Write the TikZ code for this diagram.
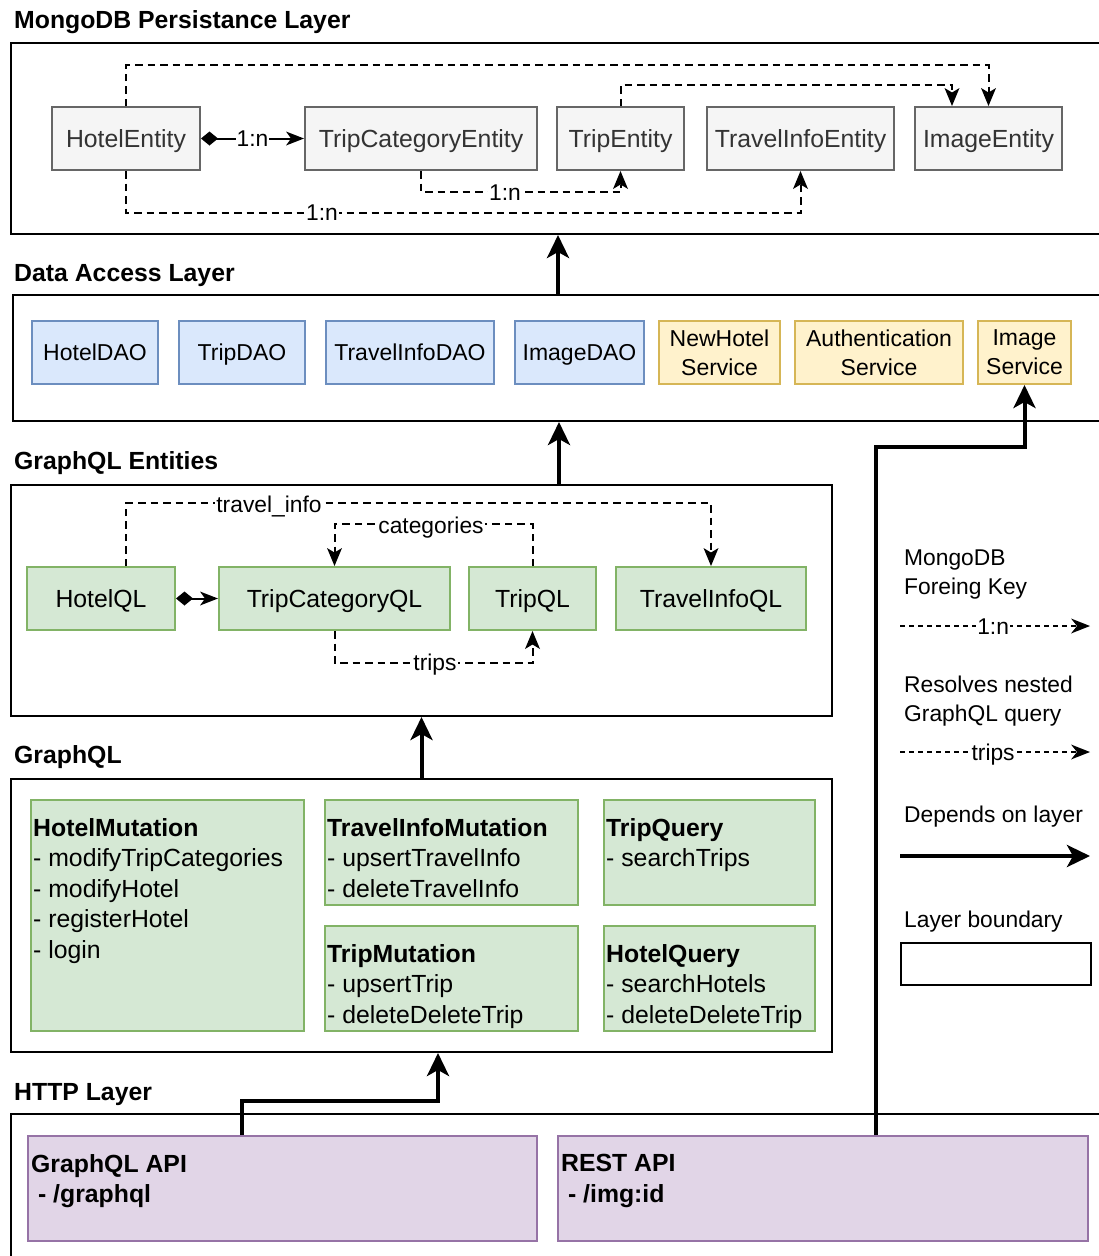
\documentclass[tikz,border=0pt]{standalone}
\usepackage{fontspec}
\setmainfont{Liberation Sans}
\usetikzlibrary{arrows.meta}

\definecolor{entfill}{HTML}{F5F5F5}
\definecolor{entline}{HTML}{666666}
\definecolor{enttext}{HTML}{333333}
\definecolor{daofill}{HTML}{DAE8FC}
\definecolor{daoline}{HTML}{6C8EBF}
\definecolor{svcfill}{HTML}{FFF2CC}
\definecolor{svcline}{HTML}{D6B656}
\definecolor{qlfill}{HTML}{D5E8D4}
\definecolor{qlline}{HTML}{82B366}
\definecolor{apifill}{HTML}{E1D5E7}
\definecolor{apiline}{HTML}{9673A6}

\newcommand{\bigfont}{\fontsize{24.8}{30.5}\selectfont}
\newcommand{\smallfont}{\fontsize{22.8}{29}\selectfont}
\newcommand{\daofont}{\fontsize{23}{29}\selectfont}

\tikzset{
  oneline/.style={text height=#1, text depth=2pt},
  oneline/.default=19.8pt,
  box/.style={draw, line width=2pt, minimum height=63pt, inner sep=0pt},
  ent/.style={box, fill=entfill, draw=entline, text=enttext, font=\bigfont, oneline},
  dao/.style={box, fill=daofill, draw=daoline, font=\daofont, oneline=18.5pt},
  svc/.style={box, fill=svcfill, draw=svcline, font=\daofont, align=center},
  qlnode/.style={box, fill=qlfill, draw=qlline, font=\bigfont, oneline},
  gqlbox/.style={draw=qlline, fill=qlfill, line width=2pt, anchor=north west, inner sep=0pt},
  apibox/.style={draw=apiline, fill=apifill, line width=2pt, anchor=north west, inner sep=0pt},
  boxtext/.style={anchor=north west, inner sep=0pt, align=left, font=\bigfont},
  layer/.style={draw=black, line width=2pt, anchor=north west, inner sep=0pt},
  layertitle/.style={anchor=west, inner sep=0pt, font=\bfseries\bigfont, oneline},
  legendtext/.style={anchor=north west, inner sep=0pt, align=left, font=\smallfont},
  legendline/.style={anchor=west, inner sep=0pt, font=\smallfont, oneline=18.3pt},
  fkline/.style={line width=2pt, dash pattern=on 7.5pt off 5pt,
    -{Stealth[length=18pt,width=15pt,inset=4.5pt,line width=0pt]}},
  keyline/.style={line width=1.6pt, dash pattern=on 5pt off 4pt,
    -{Stealth[length=19pt,width=15pt,inset=6pt,line width=0pt]}},
  depline/.style={line width=4pt, -{Stealth[length=23pt,width=22pt,inset=6pt]}},
  compline/.style={line width=2pt,
    {Diamond[length=17pt,width=14pt,line width=0pt]}-{Stealth[length=18pt,width=14pt,inset=5pt,line width=0pt]}},
  lbl/.style={fill=white, inner sep=1pt, font=\smallfont, oneline=18.3pt},
}

\begin{document}
\begin{tikzpicture}[x=1pt,y=-1pt]
\useasboundingbox (0,0) rectangle (1099,1256);
\clip (0,0) rectangle (1099,1256);

% ---------- layer frames and titles ----------
\node[layer, minimum width=1100pt, minimum height=191pt] (Lmongo) at (10,42) {};
\node[layer, minimum width=1098pt, minimum height=126pt] (Ldal) at (12,294) {};
\node[layer, minimum width=821pt, minimum height=231pt] (Lent) at (10,484) {};
\node[layer, minimum width=821pt, minimum height=273pt] (Lgql) at (10,778) {};
\node[layer, minimum width=1100pt, minimum height=170pt] (Lhttp) at (10,1113) {};

\node[layertitle] (Tmongo) at (14,20) {MongoDB Persistance Layer};
\node[layertitle] (Tdal) at (14,273) {Data Access Layer};
\node[layertitle] (Tent) at (14,461) {GraphQL Entities};
\node[layertitle] (Tgql) at (14,755) {GraphQL};
\node[layertitle] (Thttp) at (14,1092) {HTTP Layer};

% ---------- MongoDB entities ----------
\node[ent, minimum width=148pt] (he) at (126,138.5) {HotelEntity};
\node[ent, minimum width=232pt] (tce) at (421,138.5) {TripCategoryEntity};
\node[ent, minimum width=127pt] (te) at (620.5,138.5) {TripEntity};
\node[ent, minimum width=187pt] (tie) at (800.5,138.5) {TravelInfoEntity};
\node[ent, minimum width=147pt] (ie) at (988.5,138.5) {ImageEntity};

\draw[compline] (he) -- node[lbl] (c1) {1:n} (tce);
\draw[fkline] (he.north) -- ++(0,-41) -| (ie.north);
\draw[fkline] (te.north) -- ++(0,-21) -| ([xshift=-36.5pt]ie.north);
\draw[fkline] (tce.south) -- ++(0,21) -| (te.south);
\draw[fkline] (he.south) -- ++(0,42) -| (tie.south);
\node[lbl] (f1) at (505,192) {1:n};
\node[lbl] (f2) at (322,212) {1:n};

% ---------- data access layer ----------
\node[dao, minimum width=126pt] (hdao) at (95,352.5) {HotelDAO};
\node[dao, minimum width=126pt] (tdao) at (242,352.5) {TripDAO};
\node[dao, minimum width=168pt] (tidao) at (410,352.5) {TravelInfoDAO};
\node[dao, minimum width=129pt] (idao) at (579.5,352.5) {ImageDAO};
\node[svc, minimum width=121pt] (nhs) at (719.5,352.5) {NewHotel\\Service};
\node[svc, minimum width=168pt] (auths) at (879,352.5) {Authentication\\Service};
\node[svc, minimum width=93pt] (imgs) at (1024.5,352.5) {Image\\Service};

% ---------- GraphQL entities ----------
\node[qlnode, minimum width=148pt] (hql) at (101,598.5) {HotelQL};
\node[qlnode, minimum width=231pt] (tcql) at (334.5,598.5) {TripCategoryQL};
\node[qlnode, minimum width=127pt] (tql) at (532.5,598.5) {TripQL};
\node[qlnode, minimum width=190pt] (tiql) at (711,598.5) {TravelInfoQL};

\draw[compline] (hql) -- (tcql);
\draw[fkline] ([xshift=25pt]hql.north) -- ++(0,-63) -| (tiql.north);
\draw[fkline] (tql.north) -- ++(0,-42) -| (tcql.north);
\draw[fkline] (tcql.south) -- ++(0,32) -| (tql.south);
\node[lbl] (q1) at (269,504) {travel\_info};
\node[lbl] (q2) at (431,525) {categories};
\node[lbl] (q3) at (435,662) {trips};

% ---------- GraphQL resolvers ----------
\node[gqlbox, minimum width=273pt, minimum height=231pt] (hm) at (30,799) {};
\node[gqlbox, minimum width=253pt, minimum height=105pt] (tim) at (324,799) {};
\node[gqlbox, minimum width=211pt, minimum height=105pt] (tq) at (603,799) {};
\node[gqlbox, minimum width=253pt, minimum height=105pt] (tm) at (324,925) {};
\node[gqlbox, minimum width=211pt, minimum height=105pt] (hq) at (603,925) {};

\node[boxtext] (hmt) at (33,818) {\textbf{HotelMutation}\\- modifyTripCategories\\- modifyHotel\\- registerHotel\\- login};
\node[boxtext] (timt) at (327,818) {\textbf{TravelInfoMutation}\\- upsertTravelInfo\\- deleteTravelInfo};
\node[boxtext] (tqt) at (606,818) {\textbf{TripQuery}\\- searchTrips};
\node[boxtext] (tmt) at (327,944) {\textbf{TripMutation}\\- upsertTrip\\- deleteDeleteTrip};
\node[boxtext] (hqt) at (606,944) {\textbf{HotelQuery}\\- searchHotels\\- deleteDeleteTrip};

% ---------- HTTP layer ----------
\node[apibox, minimum width=509pt, minimum height=105pt] (gapi) at (27,1135) {};
\node[apibox, minimum width=530pt, minimum height=105pt] (rest) at (557,1135) {};
\node[boxtext, font=\bfseries\bigfont] (gapit) at (31,1154) {GraphQL API\\\hspace*{6.9pt}- /graphql};
\node[boxtext, font=\bfseries\bigfont] (restt) at (561,1154) {REST API\\\hspace*{6.9pt}- /img:id};

% ---------- layer dependencies ----------
\draw[depline] ([xshift=-4pt]Ldal.north) -- ([xshift=-4pt]Ldal.north |- Lmongo.south);
\draw[depline] ([xshift=137.5pt]Lent.north) -- ([xshift=137.5pt]Lent.north |- Ldal.south);
\draw[depline] (Lgql.north) -- (Lent.south);
\draw[depline] ([xshift=-40.5pt]gapi.north) -- ++(0,-34) -| ([xshift=16.5pt]Lgql.south);
\draw[depline] ([xshift=53pt]rest.north) -- ++(0,-688) -| (imgs.south);

% ---------- legend ----------
\node[legendtext] (lt1) at (904,550) {MongoDB\\Foreing Key};
\coordinate (lgAa) at (900,626);
\coordinate (lgAb) at (1090,626);
\draw[keyline] (lgAa) -- node[lbl, pos=0.49] (lgAl) {1:n} (lgAb);

\node[legendtext] (lt2) at (904,676) {Resolves nested\\GraphQL query};
\coordinate (lgBa) at (900,752);
\coordinate (lgBb) at (1090,752);
\draw[keyline] (lgBa) -- node[lbl, pos=0.49] (lgBl) {trips} (lgBb);

\node[legendline] (lt3) at (904,814) {Depends on layer};
\coordinate (lgCa) at (900,856);
\coordinate (lgCb) at (1090,856);
\draw[depline] (lgCa) -- (lgCb);

\node[legendline] (lt4) at (904,919) {Layer boundary};
\node[layer, minimum width=190pt, minimum height=42pt] (lgbox) at (900,942) {};
\end{tikzpicture}
\end{document}
